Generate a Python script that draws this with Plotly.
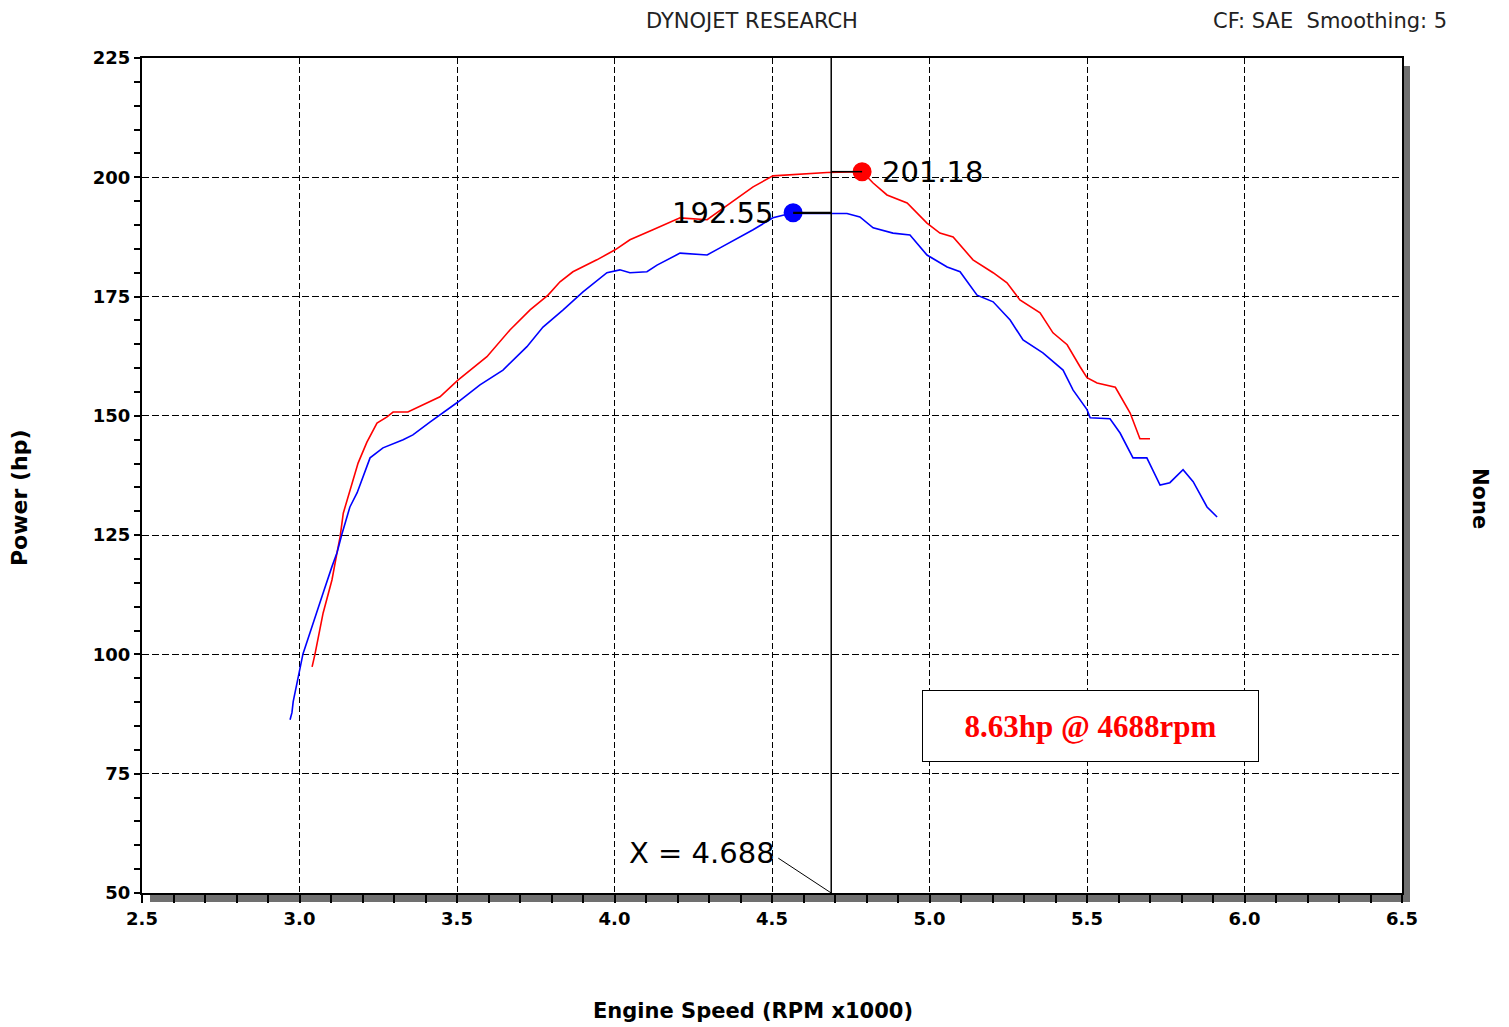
import plotly.graph_objects as go

# ---------------- data ----------------
red_rpm = [3.040, 3.049, 3.075, 3.103, 3.119, 3.129, 3.139, 3.154, 3.186, 3.214, 3.246, 3.278,
           3.297, 3.344, 3.392, 3.446, 3.503, 3.595, 3.668, 3.732, 3.789, 3.827, 3.868, 3.944,
           4.002, 4.049, 4.122, 4.208, 4.294, 4.367, 4.440, 4.503, 4.598, 4.675, 4.786, 4.821,
           4.865, 4.929, 4.992, 5.033, 5.075, 5.138, 5.202, 5.246, 5.287, 5.351, 5.392, 5.437,
           5.478, 5.500, 5.532, 5.590, 5.637, 5.659, 5.668, 5.700]
red_hp = [97.4, 100.0, 108.7, 115.6, 121.3, 124.7, 129.6, 133.0, 140.1, 144.5, 148.5, 149.8,
          150.8, 150.8, 152.3, 154.0, 157.5, 162.4, 168.0, 172.2, 175.3, 178.1, 180.2, 182.7,
          184.8, 186.9, 189.0, 191.5, 191.1, 194.6, 198.0, 200.3, 200.7, 201.0, 201.18, 198.8,
          196.3, 194.6, 190.4, 188.3, 187.5, 182.7, 180.0, 177.9, 174.3, 171.6, 167.4, 164.9,
          160.3, 158.0, 156.9, 156.0, 150.6, 146.6, 145.2, 145.2]

blue_rpm = [2.970, 2.976, 2.980, 2.996, 3.011, 3.033, 3.059, 3.075, 3.103, 3.119, 3.135, 3.160,
            3.183, 3.214, 3.224, 3.265, 3.329, 3.360, 3.414, 3.503, 3.573, 3.646, 3.722, 3.773,
            3.837, 3.900, 3.976, 4.017, 4.049, 4.103, 4.135, 4.208, 4.294, 4.335, 4.398, 4.440,
            4.503, 4.548, 4.567, 4.600, 4.738, 4.779, 4.821, 4.884, 4.938, 4.992, 5.056, 5.097,
            5.151, 5.202, 5.256, 5.297, 5.360, 5.424, 5.456, 5.500, 5.510, 5.573, 5.605, 5.646,
            5.690, 5.732, 5.763, 5.805, 5.837, 5.881, 5.913]
blue_hp = [86.3, 87.8, 90.1, 95.3, 100.1, 104.5, 110.0, 112.9, 118.4, 121.3, 125.3, 130.9,
           133.9, 139.3, 141.2, 143.3, 145.0, 146.0, 148.7, 152.9, 156.5, 159.6, 164.5, 168.6,
           172.2, 176.0, 180.0, 180.6, 180.0, 180.2, 181.6, 184.1, 183.7, 185.2, 187.5, 189.0,
           191.5, 192.2, 192.55, 192.4, 192.4, 191.7, 189.4, 188.3, 187.9, 183.7, 181.2, 180.2,
           175.3, 173.9, 170.1, 165.9, 163.2, 159.6, 155.4, 151.3, 149.6, 149.4, 146.4, 141.2,
           141.2, 135.5, 136.0, 138.7, 136.2, 130.9, 128.8]

red_peak_rpm, red_peak_hp = 4.786, 201.18
blue_peak_rpm, blue_peak_hp = 4.567, 192.55
cursor_rpm = 4.688

x_ticks = [2.5, 3.0, 3.5, 4.0, 4.5, 5.0, 5.5, 6.0, 6.5]
x_tick_labels = ["2.5", "3.0", "3.5", "4.0", "4.5", "5.0", "5.5", "6.0", "6.5"]
y_ticks = [50, 75, 100, 125, 150, 175, 200, 225]
y_tick_labels = ["50", "75", "100", "125", "150", "175", "200", "225"]

title_text = "DYNOJET RESEARCH"
info_text = "CF: SAE  Smoothing: 5"
x_title = "Engine Speed (RPM x1000)"
y_title = "Power (hp)"
right_title = "None"
box_text = "8.63hp @ 4688rpm"
cursor_text = "X = 4.688"

# ---------------- figure ----------------
# page has an 8px body margin, so the figure is shifted by 8px
OFF = 8
W, H = 1509 - OFF, 1027 - OFF
L, R, T, B = 142 - OFF, 107, 58 - OFF, 134
PW, PH = W - L - R, H - T - B
PLOT_LEFT_PAGE, PLOT_BOTTOM_PAGE = 142, 893

fig = go.Figure()

fig.add_trace(go.Scatter(x=red_rpm, y=red_hp, mode="lines",
                         line=dict(color="#ff0000", width=1.6), showlegend=False, hoverinfo="skip"))
fig.add_trace(go.Scatter(x=blue_rpm, y=blue_hp, mode="lines",
                         line=dict(color="#0000ff", width=1.6), showlegend=False, hoverinfo="skip"))

# readout lines
fig.add_shape(type="line", x0=blue_peak_rpm, x1=cursor_rpm, y0=blue_peak_hp, y1=blue_peak_hp,
              line=dict(color="black", width=2.2), layer="above")
fig.add_shape(type="line", x0=cursor_rpm, x1=red_peak_rpm, y0=red_peak_hp, y1=red_peak_hp,
              line=dict(color="black", width=1.5), layer="above")
# cursor line
fig.add_shape(type="line", x0=cursor_rpm, x1=cursor_rpm, y0=0, y1=1, yref="paper",
              line=dict(color="black", width=1.5), layer="above")
# connector from cursor label
fig.add_shape(type="line", x0=4.52, y0=57.3, x1=cursor_rpm, y1=50,
              line=dict(color="black", width=1), layer="above")

fig.add_trace(go.Scatter(x=[red_peak_rpm], y=[red_peak_hp], mode="markers",
                         marker=dict(color="#ff0000", size=19, symbol="circle"),
                         showlegend=False, hoverinfo="skip"))
fig.add_trace(go.Scatter(x=[blue_peak_rpm], y=[blue_peak_hp], mode="markers",
                         marker=dict(color="#0000ff", size=19, symbol="circle"),
                         showlegend=False, hoverinfo="skip"))

# shadow strips (outside plot area)
fig.add_shape(type="rect", xref="paper", yref="paper",
              x0=1.0, x1=1 + 8 / PW, y0=-9 / PH, y1=1 - 8 / PH,
              fillcolor="#707070", line=dict(width=0), layer="below")
fig.add_shape(type="rect", xref="paper", yref="paper",
              x0=8 / PW, x1=1 + 8 / PW, y0=-9 / PH, y1=0,
              fillcolor="#707070", line=dict(width=0), layer="below")


def px_x(p):
    return (p - PLOT_LEFT_PAGE) / PW


def px_y(p):
    return (PLOT_BOTTOM_PAGE - p) / PH


ann = []
ann.append(dict(text=title_text, xref="paper", yref="paper", x=px_x(752), y=px_y(21),
                showarrow=False, xanchor="center", yanchor="middle",
                font=dict(family="DejaVu Sans", size=21, color="#222")))
ann.append(dict(text=info_text, xref="paper", yref="paper", x=px_x(1449), y=px_y(21),
                showarrow=False, xanchor="right", yanchor="middle",
                font=dict(family="DejaVu Sans", size=21, color="#222")))
ann.append(dict(text="<b>" + x_title + "</b>", xref="paper", yref="paper", x=px_x(753), y=px_y(1011),
                showarrow=False, xanchor="center", yanchor="middle",
                font=dict(family="DejaVu Sans", size=21, color="black")))
ann.append(dict(text="<b>" + y_title + "</b>", xref="paper", yref="paper", x=px_x(20), y=px_y(498),
                showarrow=False, xanchor="center", yanchor="middle", textangle=-90,
                font=dict(family="DejaVu Sans", size=22, color="black")))
ann.append(dict(text="<b>" + right_title + "</b>", xref="paper", yref="paper", x=px_x(1480), y=px_y(498),
                showarrow=False, xanchor="center", yanchor="middle", textangle=90,
                font=dict(family="DejaVu Sans", size=21, color="black")))
ann.append(dict(text=f"{blue_peak_hp:.2f}", x=blue_peak_rpm, y=blue_peak_hp, xshift=-18,
                showarrow=False, xanchor="right", yanchor="middle",
                font=dict(family="DejaVu Sans", size=29, color="black")))
ann.append(dict(text=f"{red_peak_hp:.2f}", x=red_peak_rpm, y=red_peak_hp, xshift=18,
                showarrow=False, xanchor="left", yanchor="middle",
                font=dict(family="DejaVu Sans", size=29, color="black")))
ann.append(dict(text=cursor_text, x=4.278, y=58.4,
                showarrow=False, xanchor="center", yanchor="middle",
                font=dict(family="DejaVu Sans", size=29, color="black")))
ann.append(dict(text="<b>" + box_text + "</b>", x=5.510, y=85.0,
                showarrow=False, xanchor="center", yanchor="middle",
                width=333, height=68, borderpad=1, bordercolor="black", borderwidth=1,
                bgcolor="white",
                font=dict(family="Liberation Serif", size=31, color="#ff0000")))

fig.update_layout(
    width=W, height=H,
    margin=dict(l=L, r=R, t=T, b=B, autoexpand=False),
    paper_bgcolor="white", plot_bgcolor="white",
    annotations=ann,
    showlegend=False,
)

fig.update_xaxes(
    range=[2.5, 6.5], tickmode="array", tickvals=x_ticks, ticktext=x_tick_labels,
    showgrid=True, gridcolor="black", gridwidth=1.4, griddash="6px,3px",
    showline=True, linecolor="black", linewidth=2, mirror=True,
    ticks="outside", ticklen=8, tickwidth=1.5, tickcolor="black",
    minor=dict(dtick=0.1, ticks="outside", ticklen=8, tickwidth=1.5, tickcolor="black", showgrid=False),
    tickfont=dict(family="DejaVu Sans", size=18, color="black", weight="bold"),
    zeroline=False, fixedrange=True,
)
fig.update_yaxes(
    range=[50, 225], tickmode="array", tickvals=y_ticks, ticktext=y_tick_labels,
    showgrid=True, gridcolor="black", gridwidth=1.4, griddash="7px,3px",
    showline=True, linecolor="black", linewidth=2, mirror=True,
    ticks="outside", ticklen=6, tickwidth=1.5, tickcolor="black",
    minor=dict(dtick=5, ticks="outside", ticklen=6, tickwidth=1.5, tickcolor="black", showgrid=False),
    tickfont=dict(family="DejaVu Sans", size=18, color="black", weight="bold"),
    zeroline=False, fixedrange=True,
)

fig.write_html("out.html")
